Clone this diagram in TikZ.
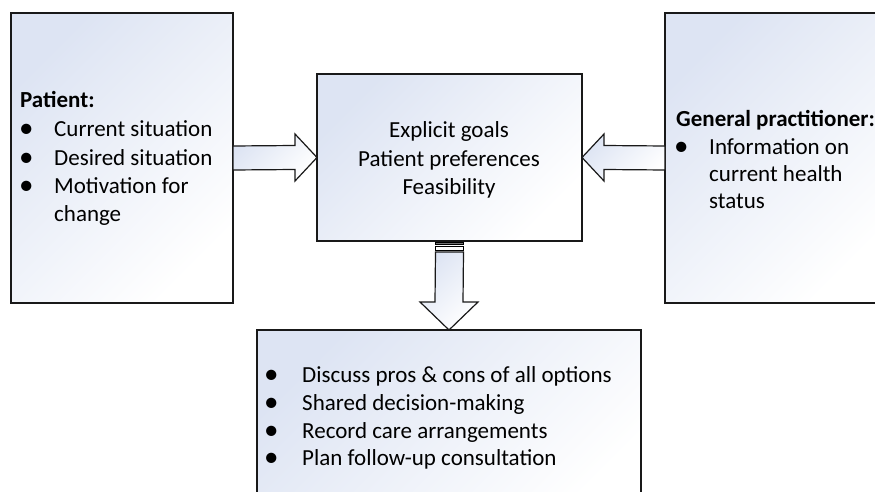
\documentclass[tikz,border=0pt]{standalone}
\usepackage{fontspec}
\setmainfont{Carlito}
\usetikzlibrary{calc}
\definecolor{boxblue}{RGB}{221,228,243}
\definecolor{edge}{RGB}{25,25,25}
\begin{document}
\begin{tikzpicture}[x=1pt,y=-1pt,
  box/.style={draw=edge, line width=1.5pt, top color=boxblue, bottom color=white, shading angle=45, inner sep=0pt, outer sep=0pt, anchor=north west},
  blockarrow/.style={draw=edge, line width=1.2pt, top color=boxblue, bottom color=white, shading angle=45, line join=miter},
  txt/.style={inner sep=0pt, anchor=base west, font=\fontsize{23}{28}\selectfont},
  ctxt/.style={inner sep=0pt, anchor=base, font=\fontsize{23}{28}\selectfont},
  bul/.style={inner sep=0pt, anchor=base west, font=\fontsize{29}{28}\selectfont}
]
\useasboundingbox (0,0) rectangle (875,492);
\clip (0,0) rectangle (875,492);
\fill[white] (0,0) rectangle (875,492);

% boxes
\node[box, minimum width=222pt, minimum height=290pt] (L) at (11,13) {};
\node[box, minimum width=265pt, minimum height=167pt] (M) at (317,74) {};
\node[box, minimum width=222pt, minimum height=290pt] (R) at (665,13) {};
\node[box, minimum width=384pt, minimum height=190pt] (B) at (257,330) {};

% arrows
\draw[blockarrow] ($(L.east)+(0,-12)$) -- ($(M.west)+(-22,-12)$) -- ($(M.west)+(-22,-23.5)$) -- (M.west)
  -- ($(M.west)+(-22,23.5)$) -- ($(M.west)+(-22,12)$) -- ($(L.east)+(0,12)$) -- cycle;
\draw[blockarrow] ($(R.west)+(0,-12)$) -- ($(M.east)+(22,-12)$) -- ($(M.east)+(22,-23.5)$) -- (M.east)
  -- ($(M.east)+(22,23.5)$) -- ($(M.east)+(22,12)$) -- ($(R.west)+(0,12)$) -- cycle;
\draw[blockarrow] ($(M.south)+(-14,11)$) -- ($(B.north)+(-14,-28)$) -- ($(B.north)+(-29,-28)$) -- (B.north)
  -- ($(B.north)+(29,-28)$) -- ($(B.north)+(14,-28)$) -- ($(M.south)+(14,11)$) -- cycle;
\draw[line width=1pt, fill=black!55] ($(M.south)+(-14,1)$) rectangle ($(M.south)+(14,3.5)$);
\draw[line width=1pt, fill=white] ($(M.south)+(-14,5)$) rectangle ($(M.south)+(14,9.5)$);

% left text
\node[txt, font=\fontsize{23}{28}\selectfont\bfseries] (lt) at (20,108) {Patient:};
\node[bul] (lb1) at (19,138) {•};
\node[txt] (l1) at (54,137) {Current situation};
\node[bul] (lb2) at (19,166) {•};
\node[txt] (l2) at (54,165) {Desired situation};
\node[bul] (lb3) at (19,194) {•};
\node[txt] (l3) at (54,193) {Motivation for};
\node[txt] (l4) at (54,221) {change};

% middle text
\node[ctxt] (m1) at (449,138) {Explicit goals};
\node[ctxt] (m2) at (449,166) {Patient preferences};
\node[ctxt] (m3) at (449,194) {Feasibility};

% right text
\node[txt, font=\fontsize{23}{28}\selectfont\bfseries] (rt) at (676,127) {General practitioner:};
\node[bul] (rb1) at (674,155) {•};
\node[txt] (r1) at (709,154) {Information on};
\node[txt] (r2) at (709,181) {current health};
\node[txt] (r3) at (709,208) {status};

% bottom text
\node[bul] (bb1) at (264,383.5) {•};
\node[txt] (b1) at (302,382.5) {Discuss pros \& cons of all options};
\node[bul] (bb2) at (264,411) {•};
\node[txt] (b2) at (302,410) {Shared decision-making};
\node[bul] (bb3) at (264,439) {•};
\node[txt] (b3) at (302,438) {Record care arrangements};
\node[bul] (bb4) at (264,466.5) {•};
\node[txt] (b4) at (302,465.5) {Plan follow-up consultation};
\end{tikzpicture}
\end{document}
